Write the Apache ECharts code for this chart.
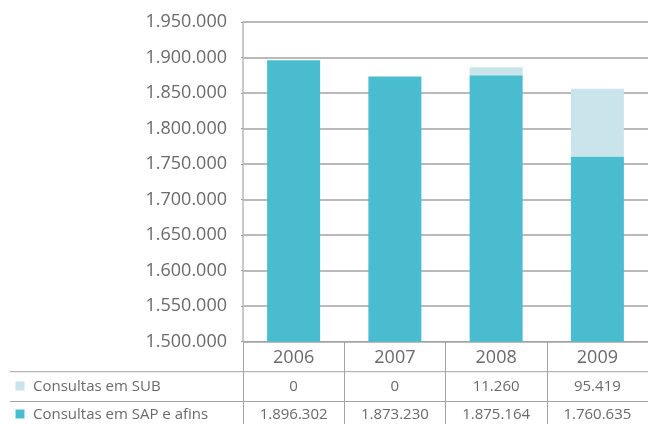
<!DOCTYPE html>
<html>
<head>
<meta charset="utf-8">
<script src="https://cdn.jsdelivr.net/npm/echarts@6/dist/echarts.min.js"></script>
<style>
html,body{margin:0;padding:0;background:#fff;}
#c{width:648px;height:424px;}
</style>
</head>
<body>
<div id="c"></div>
<script>
var years = ['2006', '2007', '2008', '2009'];
var sapName = 'Consultas em SAP e afins';
var subName = 'Consultas em SUB';
var sapValues = [1896302, 1873230, 1875164, 1760635];
var subValues = [0, 0, 11260, 95419];
var yMin = 1500000, yMax = 1950000, yStep = 50000;

var cSap = '#49BDCF';
var cSub = '#C9E4EB';
var textColor = '#6a6a6a';
var lineColor = '#a3a3a3';
var fontFam = '"Open Sans", "DejaVu Sans", sans-serif';

function fmt(v) {
  return String(v).replace(/\B(?=(\d{3})+(?!\d))/g, '.');
}

var chart = echarts.init(document.getElementById('c'), null, {renderer: 'canvas'});
chart.setOption({
  animation: false,
  backgroundColor: '#fff',
  grid: {left: 243, right: -3, top: 22, bottom: 82.3, containLabel: false},
  xAxis: {
    type: 'category',
    data: years,
    axisLine: {show: true, lineStyle: {color: lineColor, width: 1}},
    axisTick: {show: true, interval: 0, length: 83, lineStyle: {color: lineColor, width: 1}},
    axisLabel: {show: true, color: textColor, fontSize: 18, fontFamily: fontFam, margin: 7},
    splitLine: {show: false}
  },
  yAxis: {
    type: 'value',
    min: yMin, max: yMax, interval: yStep,
    axisLine: {show: true, lineStyle: {color: '#b8b8b8', width: 1.5}},
    axisTick: {show: true, length: 2, lineStyle: {color: lineColor}},
    axisLabel: {color: textColor, fontSize: 18, fontFamily: fontFam, margin: 16, formatter: function (v) { return fmt(v); }},
    splitLine: {show: true, lineStyle: {color: lineColor, width: 1.5}}
  },
  series: [
    {name: sapName, type: 'bar', stack: 't', data: sapValues, barWidth: 53, itemStyle: {color: cSap}},
    {name: subName, type: 'bar', stack: 't', data: subValues, barWidth: 53, itemStyle: {color: cSub}}
  ]
});

var rows = [
  {name: subName, values: subValues, color: cSub, y: 386.5},
  {name: sapName, values: sapValues, color: cSap, y: 414.5}
];
var g = [];
g.push({type: 'line', shape: {x1: 10, y1: 371.7, x2: 648, y2: 371.7}, style: {stroke: lineColor, lineWidth: 1}, silent: true});
g.push({type: 'line', shape: {x1: 10, y1: 401.5, x2: 648, y2: 401.5}, style: {stroke: lineColor, lineWidth: 1}, silent: true});
rows.forEach(function (r) {
  g.push({type: 'rect', shape: {x: 15.5, y: r.y - 5, width: 9, height: 9}, style: {fill: r.color}, silent: true});
  g.push({type: 'text', x: 33, y: r.y, style: {text: r.name, fill: textColor, fontSize: 15, fontFamily: fontFam, align: 'left', verticalAlign: 'middle'}, silent: true});
  r.values.forEach(function (v, i) {
    var px = chart.convertToPixel({xAxisIndex: 0}, years[i]);
    g.push({type: 'text', x: px, y: r.y, style: {text: fmt(v), fill: textColor, fontSize: 15, fontFamily: fontFam, align: 'center', verticalAlign: 'middle'}, silent: true});
  });
});
chart.setOption({graphic: g});
</script>
</body>
</html>
